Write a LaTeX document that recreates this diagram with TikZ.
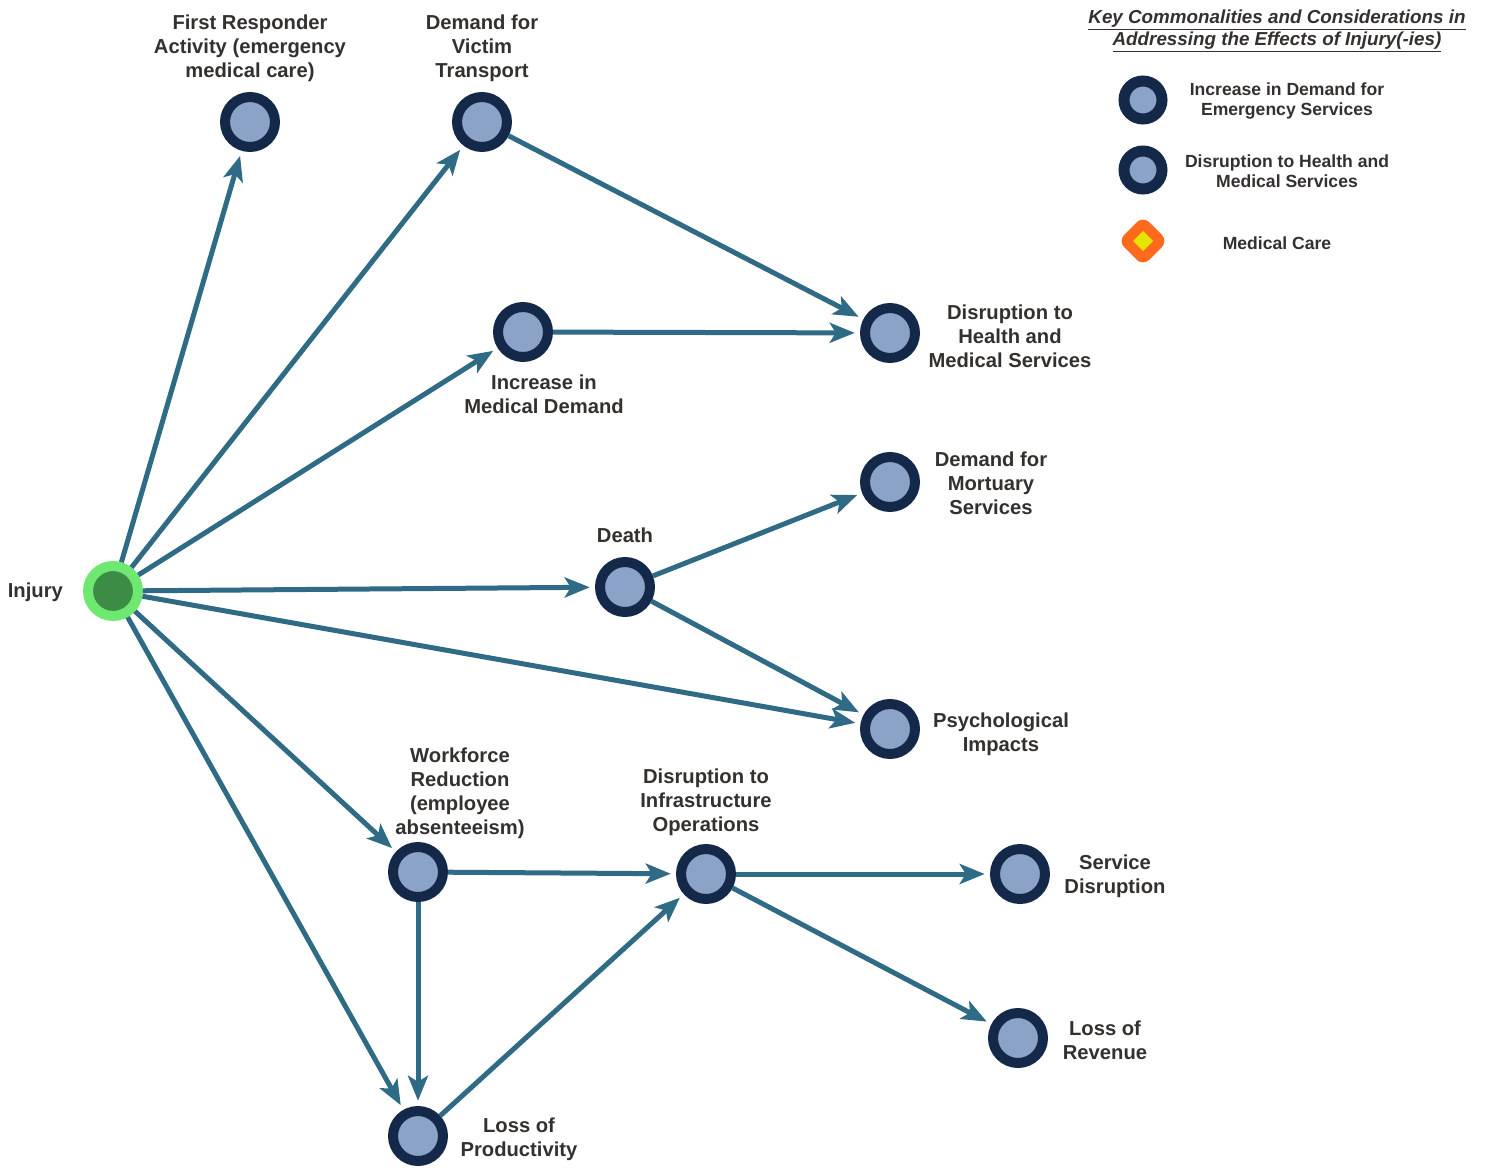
\documentclass[tikz,border=0pt]{standalone}
\usepackage{fontspec}
\setmainfont{Liberation Sans}
\usetikzlibrary{arrows.meta}

\definecolor{navy}{HTML}{14284A}
\definecolor{dotfill}{HTML}{8AA3C6}
\definecolor{arrowblue}{HTML}{2F6B85}
\definecolor{textgray}{HTML}{33302E}
\definecolor{injlight}{HTML}{6EE870}
\definecolor{injdark}{HTML}{3C8C46}
\definecolor{legorange}{HTML}{FF6A1C}
\definecolor{legyellow}{HTML}{E2E600}

\tikzset{
  dot/.style={circle, draw=navy, fill=dotfill, line width=0.2cm, minimum size=1cm, inner sep=0pt},
  injdot/.style={circle, draw=injlight, fill=injdark, line width=0.2cm, minimum size=1cm, inner sep=0pt},
  legdot/.style={circle, draw=navy, fill=dotfill, line width=0.22cm, minimum size=0.76cm, inner sep=0pt},
  lbl/.style={text=textgray, font=\bfseries\fontsize{11.5}{13.7}\selectfont, align=center, inner sep=1pt},
  legtxt/.style={text=textgray, font=\bfseries\fontsize{10}{11.4}\selectfont, align=center, inner sep=0pt},
  flow/.style={draw=arrowblue, line width=0.1cm, shorten >=3pt,
    -{Stealth[length=0.5cm, width=0.4cm, inset=0.12cm]}}
}

\begin{document}
\begin{tikzpicture}[x=0.02cm, y=-0.02cm]

\useasboundingbox (0,0) rectangle (1489,1170);

% Nodes
\node[injdot] (injury) at (113,591) {};
\node[dot] (responder) at (250,122) {};
\node[dot] (transport) at (482,122) {};
\node[dot] (meddemand) at (523,332) {};
\node[dot] (health) at (890,333) {};
\node[dot] (mortuary) at (890,482) {};
\node[dot] (death) at (625,587) {};
\node[dot] (psych) at (890,729) {};
\node[dot] (workforce) at (418,872) {};
\node[dot] (infra) at (706,874) {};
\node[dot] (service) at (1020,874) {};
\node[dot] (revenue) at (1018,1038) {};
\node[dot] (productivity) at (418,1136) {};

% Labels
\node[lbl, anchor=east] (injurytxt) at (65,592) {Injury};
\node[lbl] (respondertxt) at (250,48) {First Responder\\Activity (emergency\\medical care)};
\node[lbl] (transporttxt) at (482,48) {Demand for\\Victim\\Transport};
\node[lbl] (meddemandtxt) at (544,394) {Increase in\\Medical Demand};
\node[lbl] (healthtxt) at (1010,336) {Disruption to\\Health and\\Medical Services};
\node[lbl] (mortuarytxt) at (991,483) {Demand for\\Mortuary\\Services};
\node[lbl] (deathtxt) at (625,535) {Death};
\node[lbl] (psychtxt) at (1001,734) {Psychological\\Impacts};
\node[lbl] (workforcetxt) at (460,793) {Workforce\\Reduction\\(employee\\absenteeism)};
\node[lbl] (infratxt) at (706,802) {Disruption to\\Infrastructure\\Operations};
\node[lbl] (servicetxt) at (1115,876) {Service\\Disruption};
\node[lbl] (revenuetxt) at (1105,1040) {Loss of\\Revenue};
\node[lbl] (productivitytxt) at (519,1139) {Loss of\\Productivity};

% Connectors
\foreach \dest in {responder, transport, meddemand, death, psych, workforce, productivity}
  \draw[flow] (injury) -- (\dest);
\draw[flow] (transport) -- (health);
\draw[flow] (meddemand) -- (health);
\draw[flow] (death) -- (mortuary);
\draw[flow] (death) -- (psych);
\draw[flow] (workforce) -- (infra);
\draw[flow] (workforce) -- (productivity);
\draw[flow] (productivity) -- (infra);
\draw[flow] (infra) -- (service);
\draw[flow] (infra) -- (revenue);

% Legend
\node[text=textgray, font=\bfseries\itshape\fontsize{10.7}{12.5}\selectfont, align=center] (legtitle) at (1277,31)
  {\underline{Key Commonalities and Considerations in}\\\underline{Addressing the Effects of Injury(-ies)}};
\node[legdot] (legemerg) at (1143,100) {};
\node[legdot] (leghealth) at (1143,170) {};
\fill[legorange, rounded corners=5] (1143,216) -- (1168,241) -- (1143,266) -- (1118,241) -- cycle;
\fill[legyellow] (1143,231) -- (1153,241) -- (1143,251) -- (1133,241) -- cycle;
\node[legtxt] (legemergtxt) at (1287,101) {Increase in Demand for\\Emergency Services};
\node[legtxt] (leghealthtxt) at (1287,171) {Disruption to Health and\\Medical Services};
\node[legtxt] (legcaretxt) at (1277,243) {Medical Care};

\end{tikzpicture}
\end{document}
